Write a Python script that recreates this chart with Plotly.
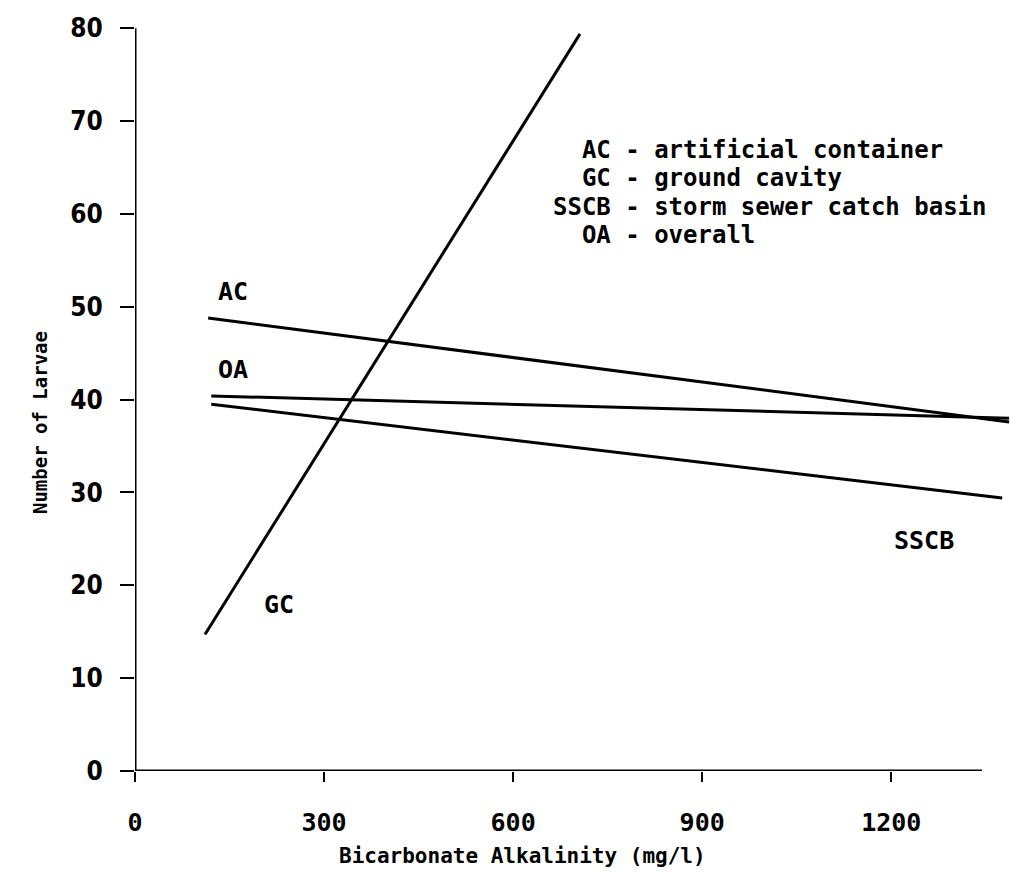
import plotly.graph_objects as go

# regression lines (x: mg/l, y: number of larvae)
ac_x = [116, 1387]
ac_y = [48.8, 37.6]
oa_x = [121, 1387]
oa_y = [40.4, 38.0]
sscb_x = [121, 1376]
sscb_y = [39.5, 29.4]
gc_x = [111, 706]
gc_y = [14.7, 79.4]

x_ticks = [0, 300, 600, 900, 1200]
y_ticks = [0, 10, 20, 30, 40, 50, 60, 70, 80]

key_lines = [
    "\u00a0\u00a0AC - artificial container",
    "\u00a0\u00a0GC - ground cavity",
    "SSCB - storm sewer catch basin",
    "\u00a0\u00a0OA - overall",
]

MONO = "DejaVu Sans Mono, Liberation Mono, monospace"
SANS = "DejaVu Sans Condensed, DejaVu Sans, Liberation Sans, Arial"

fig = go.Figure()

for xs, ys in [(ac_x, ac_y), (oa_x, oa_y), (sscb_x, sscb_y), (gc_x, gc_y)]:
    fig.add_trace(go.Scatter(
        x=xs, y=ys, mode="lines",
        line=dict(color="black", width=3),
        showlegend=False, hoverinfo="skip"
    ))

# axis lines (x axis stops short of the regression lines)
fig.add_shape(type="line", xref="x", yref="y", x0=0, x1=1344, y0=0, y1=0,
              line=dict(color="black", width=3))
fig.add_shape(type="line", xref="x", yref="y", x0=0, x1=0, y0=0, y1=80,
              line=dict(color="black", width=3))

label_font = dict(family=MONO, size=25, color="black", weight="bold")
for text, x, y in [("AC", 155, 51.6), ("OA", 155, 43.3),
                   ("GC", 229, 17.9), ("SSCB", 1252, 24.8)]:
    fig.add_annotation(x=x, y=y, text=text, showarrow=False, font=label_font)

key_font = dict(family=MONO, size=24, color="black", weight="bold")
key_y = [66.9, 63.85, 60.8, 57.75]
for text, y in zip(key_lines, key_y):
    fig.add_annotation(x=660, y=y, text=text, showarrow=False,
                       xanchor="left", yanchor="middle", font=key_font)

# axis titles
fig.add_annotation(xref="paper", yref="paper", x=0.442, y=-0.113,
                   xanchor="center", yanchor="middle",
                   text="Bicarbonate Alkalinity (mg/l)", showarrow=False,
                   font=dict(family=MONO, size=21, color="black", weight="bold"))
fig.add_annotation(xref="paper", yref="paper", x=-0.1085, y=0.464,
                   xanchor="center", yanchor="middle",
                   text="Number of Larvae", showarrow=False, textangle=-90,
                   font=dict(family=MONO, size=19, color="black", weight="bold"))

fig.update_xaxes(
    range=[0, 1390], showline=False, showgrid=False, zeroline=False,
    automargin=False,
    tickvals=x_ticks, ticktext=[str(v) for v in x_ticks],
    ticks="outside", ticklen=10, tickwidth=2, tickcolor="black",
    ticklabelstandoff=19,
    tickfont=dict(family=MONO, size=25, color="black", weight="bold")
)
fig.update_yaxes(
    range=[0, 81], showline=False, showgrid=False, zeroline=False,
    automargin=False,
    tickvals=y_ticks, ticktext=[str(v) for v in y_ticks],
    ticks="outside", ticklen=14, tickwidth=2, tickcolor="black",
    ticklabelstandoff=12,
    tickfont=dict(family=SANS, size=26, color="black", weight="bold")
)

# the page body adds an 8px offset, so the figure is 8px smaller than the window
fig.update_layout(
    width=1015, height=888,
    margin=dict(l=127, r=12, t=11, b=125),
    plot_bgcolor="white", paper_bgcolor="white",
    showlegend=False
)

fig.write_html("out.html")
